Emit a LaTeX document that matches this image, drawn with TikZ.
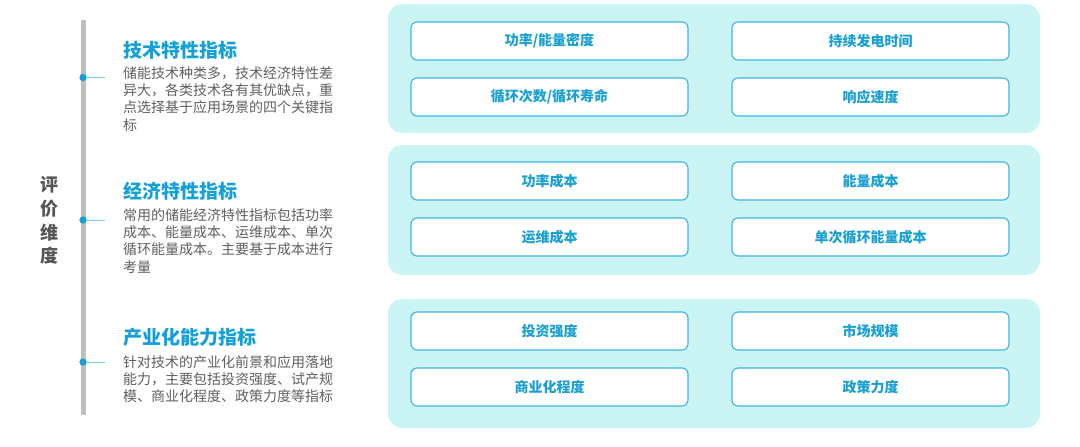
\documentclass[tikz,border=0pt]{standalone}
\usepackage{fontspec}
\setmainfont{Noto Sans CJK SC}
\definecolor{panelfill}{RGB}{202,245,244}
\definecolor{boxline}{RGB}{60,180,225}
\definecolor{boxtext}{RGB}{25,160,210}
\definecolor{titleblue}{RGB}{18,160,215}
\definecolor{bodygray}{RGB}{95,95,95}
\definecolor{axisgray}{RGB}{191,191,191}
\definecolor{dotblue}{RGB}{20,160,215}
\definecolor{tickblue}{RGB}{120,205,235}
\definecolor{dimgray}{RGB}{85,85,85}
\tikzset{
  panel/.style={fill=panelfill, draw=none, rounded corners=14pt},
  itembox/.style={draw=boxline, line width=1.1pt, fill=white, rounded corners=6pt,
    minimum width=277pt, minimum height=38pt, inner sep=0pt,
    font=\fontsize{14}{16}\selectfont\bfseries, text=boxtext},
  sectitle/.style={anchor=west, inner sep=0pt, font=\fontsize{19}{22}\selectfont\bfseries, text=titleblue},
  secbody/.style={anchor=north west, inner sep=0pt, align=left,
    font=\fontsize{14}{17.4}\selectfont, text=bodygray},
  dimchar/.style={inner sep=0pt, font=\fontsize{18}{20}\selectfont\bfseries, text=dimgray},
  dotmark/.style={circle, fill=dotblue, inner sep=0pt, minimum size=7pt},
}
\begin{document}
\begin{tikzpicture}[x=1pt,y=-1pt]
\useasboundingbox (0,0) rectangle (1080,447);

% axis
\coordinate (axtop) at (83,20);
\coordinate (axbot) at (83,415);
\draw[axisgray, line width=5pt] (axtop) -- (axbot);

% vertical label
\node[dimchar] (d1) at (49,185) {评};
\node[dimchar] (d2) at (49,209) {价};
\node[dimchar] (d3) at (49,233) {维};
\node[dimchar] (d4) at (49,256) {度};

% ticks and dots
\foreach \n/\y in {a/77.5, b/220, c/362} {
  \coordinate (tk\n) at (105,\y);
  \node[dotmark] (dot\n) at (83,\y) {};
  \draw[tickblue, line width=1pt] (dot\n.center) -- (tk\n);
  \node[dotmark] at (83,\y) {};
}

% section texts
\node[sectitle] (t1) at (123,50) {技术特性指标};
\node[secbody] (b1) at (123,66) {储能技术种类多，技术经济特性差\\异大，各类技术各有其优缺点，重\\点选择基于应用场景的四个关键指\\标};
\node[sectitle] (t2) at (123,191) {经济特性指标};
\node[secbody] (b2) at (123,208) {常用的储能经济特性指标包括功率\\成本、能量成本、运维成本、单次\\循环能量成本。主要基于成本进行\\考量};
\node[sectitle] (t3) at (123,337) {产业化能力指标};
\node[secbody] (b3) at (123,355) {针对技术的产业化前景和应用落地\\能力，主要包括投资强度、试产规\\模、商业化程度、政策力度等指标};

% panels
\draw[panel] (388,4) rectangle (1040,133);
\draw[panel] (388,145) rectangle (1040,275);
\draw[panel] (388,299) rectangle (1040,428);

% boxes
\node[itembox] (p11) at (549.5,41) {功率/能量密度};
\node[itembox] (p12) at (870.5,41) {持续发电时间};
\node[itembox] (p13) at (549.5,97) {循环次数/循环寿命};
\node[itembox] (p14) at (870.5,97) {响应速度};

\node[itembox] (p21) at (549.5,181) {功率成本};
\node[itembox] (p22) at (870.5,181) {能量成本};
\node[itembox] (p23) at (549.5,237) {运维成本};
\node[itembox] (p24) at (870.5,237) {单次循环能量成本};

\node[itembox] (p31) at (549.5,331) {投资强度};
\node[itembox] (p32) at (870.5,331) {市场规模};
\node[itembox] (p33) at (549.5,387) {商业化程度};
\node[itembox] (p34) at (870.5,387) {政策力度};
\end{tikzpicture}
\end{document}
